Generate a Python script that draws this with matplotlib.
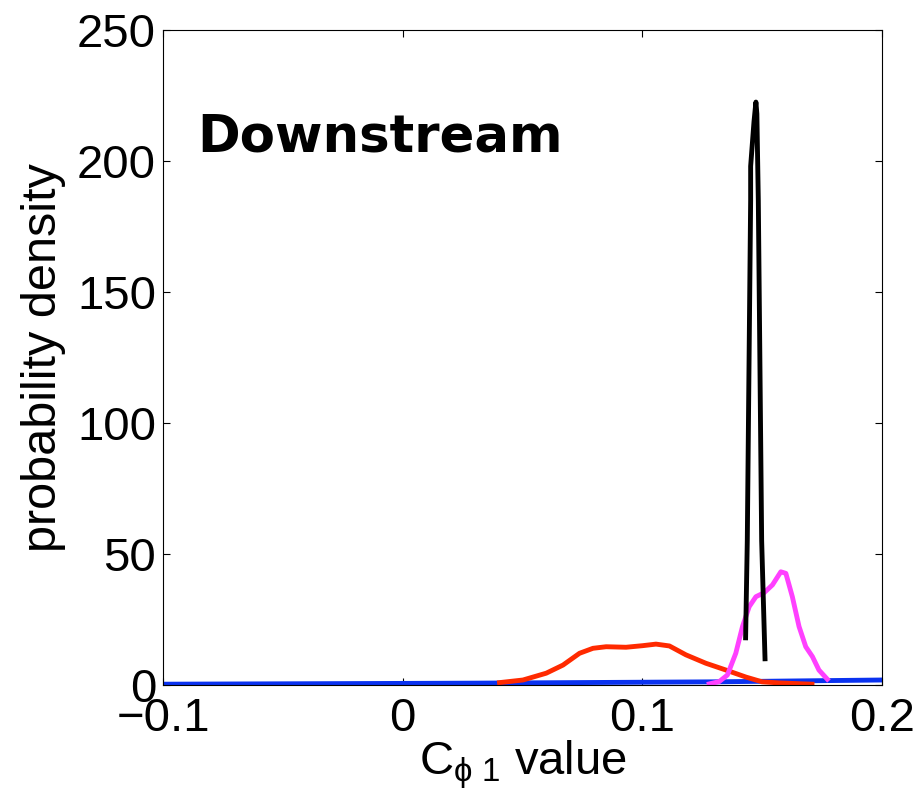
import matplotlib
matplotlib.use("Agg")
import matplotlib.pyplot as plt

plt.rcParams["font.family"] = ["Liberation Sans", "DejaVu Sans"]
plt.rcParams["mathtext.fontset"] = "custom"
plt.rcParams["mathtext.rm"] = "Liberation Sans"
plt.rcParams["mathtext.it"] = "Liberation Sans"

# density curves
blue_x = [-0.12, -0.1, -0.05, 0.0, 0.03, 0.08, 0.13, 0.17, 0.2, 0.22]
blue_y = [0.2, 0.3, 0.45, 0.6, 0.7, 0.95, 1.2, 1.6, 1.9, 2.0]

red_x = [0.0404, 0.0502, 0.0599, 0.0669, 0.0738, 0.0794, 0.0849, 0.0932, 0.1001, 0.1057,
         0.1113, 0.1182, 0.1265, 0.1349, 0.1433, 0.150, 0.157, 0.1708]
red_y = [0.9, 1.9, 4.5, 7.6, 12.1, 14.0, 14.6, 14.4, 15.0, 15.6,
         14.9, 11.5, 8.3, 5.7, 3.0, 1.2, 0.8, 0.3]

mag_x = [0.1279, 0.1321, 0.1355, 0.139, 0.1418, 0.1446, 0.1474, 0.1508, 0.1543, 0.1578,
         0.1599, 0.1626, 0.1654, 0.1682, 0.1710, 0.1737, 0.1772]
mag_y = [0.4, 1.3, 3.8, 12.1, 22.3, 29.9, 33.7, 35.2, 38.2, 43.2,
         42.6, 33.7, 22.3, 14.6, 10.8, 5.7, 2.2]

blk_x = [0.1431, 0.1438, 0.1452, 0.1452, 0.1466, 0.1474, 0.1478, 0.1484, 0.1498, 0.1512]
blk_y = [18, 55, 185, 198, 215, 222.5, 218, 185, 55, 10]

fig = plt.figure(figsize=(9.19, 8.07), dpi=100)
ax = fig.add_axes([0.1774, 0.1512, 0.7823, 0.8116])

ax.plot(blue_x, blue_y, color="#0a32f0", lw=3.5)
ax.plot(red_x, red_y, color="#ff2a00", lw=3.5)
ax.plot(mag_x, mag_y, color="#ff40ff", lw=3.5)
ax.plot(blk_x, blk_y, color="black", lw=3.5)

ax.set_xlim(-0.1, 0.2)
ax.set_ylim(0, 250)
ax.set_xticks([-0.1, 0, 0.1, 0.2])
ax.set_xticklabels(["\u22120.1", "0", "0.1", "0.2"])
ax.set_yticks([0, 50, 100, 150, 200, 250])
ax.tick_params(direction="in", top=True, right=True, labelsize=34, length=5)
ax.tick_params(axis="x", pad=9)
ax.tick_params(axis="y", pad=5)

ax.set_xlabel(r"C$_{\phi\ 1}$ value", fontsize=34, labelpad=-2)
ax.set_ylabel("probability density", fontsize=35, labelpad=8)

ax.text(-0.0858, 209, "Downstream", fontsize=37, fontweight="bold",
        family=["DejaVu Sans"], va="center", ha="left")

fig.savefig("out.png", dpi=100)
